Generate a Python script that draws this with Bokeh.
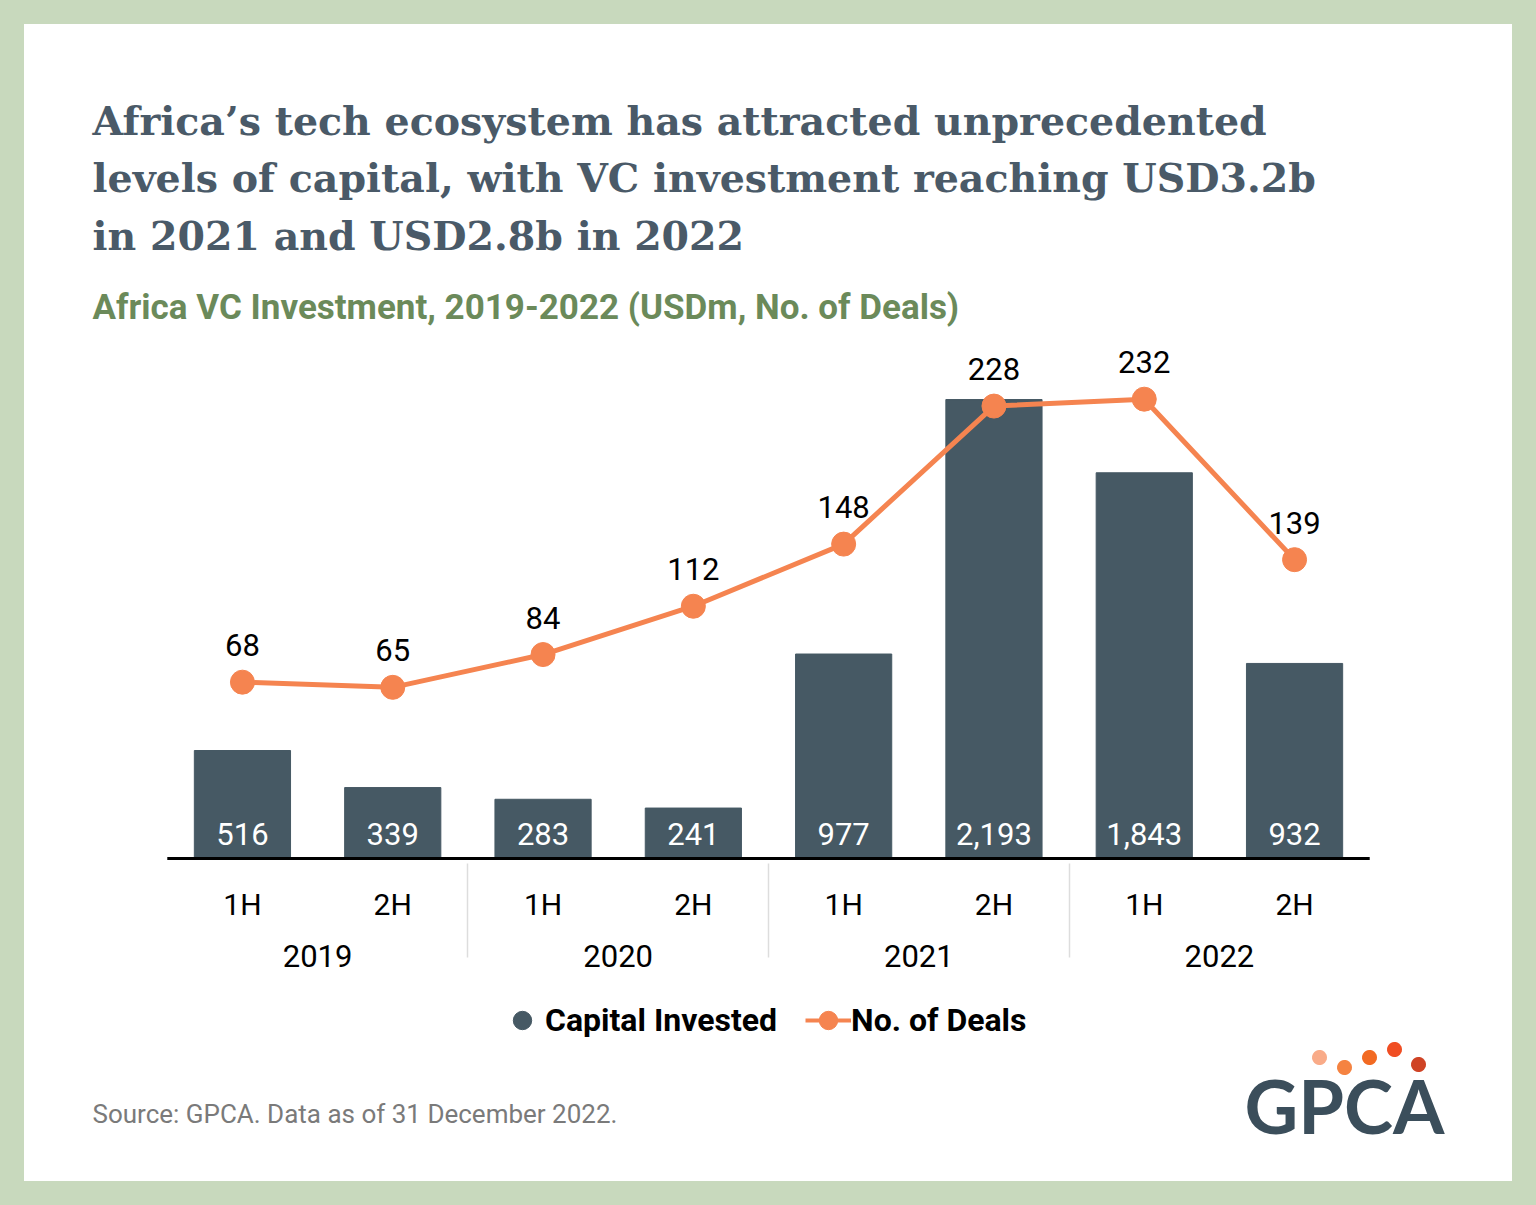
from bokeh.plotting import figure
from bokeh.models import (ColumnDataSource, FactorRange, Range1d, Label,
                          LabelSet, Legend, LegendItem, PolyAnnotation)
from bokeh.core.properties import value
from bokeh.transform import dodge
from bokeh.layouts import column
from bokeh.embed import file_html
from bokeh.resources import INLINE
import numpy as np

years = ["2019", "2019", "2020", "2020", "2021", "2021", "2022", "2022"]
halves = ["1H", "2H", "1H", "2H", "1H", "2H", "1H", "2H"]
capital = [516, 339, 283, 241, 977, 2193, 1843, 932]
deals = [68, 65, 84, 112, 148, 228, 232, 139]

BAR = "#465964"
ORANGE = "#f58450"
COND = "Roboto"
W = 1488


def blank(h):
    f = figure(width=W, height=h, output_backend="svg", toolbar_location=None,
               x_axis_type=None, y_axis_type=None,
               x_range=Range1d(0, 1), y_range=Range1d(0, 1),
               min_border=0, min_border_left=0, min_border_right=0,
               min_border_top=0, min_border_bottom=0)
    f.grid.visible = False
    f.outline_line_color = None
    f.background_fill_color = "white"
    f.border_fill_color = "white"
    return f


# ---------------- header (page y 24..335) ----------------
HB = 335
head = blank(HB - 24)
title_lines = ["Africa\u2019s tech ecosystem has attracted unprecedented",
               "levels of capital, with VC investment reaching USD3.2b",
               "in 2021 and USD2.8b in 2022"]
for i, t in enumerate(title_lines):
    head.add_layout(Label(x=92 - 24, y=HB - (138 + 57.5 * i) + 18, x_units="screen", y_units="screen",
                          text=t, text_font="DejaVu Serif", text_font_style="bold",
                          text_font_size="39.5px", text_color="#4a5a68", text_baseline="alphabetic"))
head.add_layout(Label(x=92 - 24, y=HB - 322 + 15, x_units="screen", y_units="screen",
                      text="Africa VC Investment, 2019-2022 (USDm, No. of Deals)",
                      text_font=COND, text_font_style="bold", text_font_size="35px",
                      text_color="#6b8a5a", text_baseline="alphabetic"))

# ---------------- chart (page y 335..1000) ----------------
factors = list(zip(years, halves))
src = ColumnDataSource(dict(
    x=factors, capital=capital, deals=deals,
    cap_lbl=[f"{v:,}" for v in capital],
    deal_lbl=[str(v) for v in deals],
    zero=[0] * len(capital),
))
base_src = ColumnDataSource(dict(first=[factors[0]], last=[factors[-1]], y=[0]))

p = figure(width=W, height=1000 - HB, output_backend="svg", toolbar_location=None,
           x_range=FactorRange(*factors, group_padding=0, factor_padding=0,
                               range_padding=0.95, range_padding_units="absolute"),
           y_range=Range1d(-9.56, 2498.9),
           min_border=0, min_border_left=0, min_border_right=0,
           min_border_top=0, min_border_bottom=140)
p.extra_y_ranges = {"deals": Range1d(-35.35, 268.9)}
p.background_fill_color = "white"
p.border_fill_color = "white"
p.outline_line_color = None
p.grid.visible = False
p.yaxis.visible = False

p.vbar(x="x", top="capital", width=0.64, source=src, color=BAR)
p.segment(x0=dodge("first", -0.5, range=p.x_range), x1=dodge("last", 0.5, range=p.x_range),
          y0="y", y1="y", source=base_src, line_color="black", line_width=3)
p.line(x="x", y="deals", source=src, color=ORANGE, line_width=5, y_range_name="deals")
p.scatter(x="x", y="deals", source=src, color=ORANGE, size=24, y_range_name="deals")

p.add_layout(LabelSet(x="x", y="zero", text="cap_lbl", source=src, y_offset=13,
                      text_align="center", text_baseline="alphabetic", text_color="white",
                      text_font=value(COND), text_font_size="31px"))
p.add_layout(LabelSet(x="x", y="deals", text="deal_lbl", source=src, y_offset=26,
                      text_align="center", text_baseline="alphabetic", text_color="black",
                      text_font=value(COND), text_font_size="31px", y_range_name="deals"))

ax = p.xaxis[0]
ax.axis_line_color = None
ax.major_tick_line_color = None
ax.minor_tick_line_color = None
ax.major_label_text_font = COND
ax.major_label_text_font_size = "30px"
ax.major_label_text_color = "black"
ax.group_text_font = COND
ax.group_text_font_size = "31px"
ax.group_text_color = "black"
ax.group_text_font_style = "normal"
ax.separator_line_color = "#dddddd"
ax.separator_line_width = 1.5
ax.major_label_standoff = 20

# ---------------- footer (page y 1000..1181) ----------------
FT = 1000
FB = 1181
foot = blank(FB - FT)
nan = [np.nan]
leg_cap = foot.scatter(x=nan, y=nan, color=BAR, size=24)
leg_ln = foot.line(x=nan, y=nan, color=ORANGE, line_width=4)
leg_pt = foot.scatter(x=nan, y=nan, color=ORANGE, size=24)
legend = Legend(items=[LegendItem(label="Capital Invested", renderers=[leg_cap]),
                       LegendItem(label="No. of Deals", renderers=[leg_ln, leg_pt])],
                orientation="horizontal", location=(499 - 24, FB - 1049),
                label_text_font=COND, label_text_font_size="32px", label_text_font_style="bold",
                label_text_color="black", border_line_color=None, background_fill_alpha=0,
                glyph_width=46, glyph_height=58, spacing=28, label_standoff=0,
                padding=0, margin=0)
foot.add_layout(legend, "center")

foot.add_layout(Label(x=92 - 24, y=FB - 1124 + 11, x_units="screen", y_units="screen",
                      text="Source: GPCA. Data as of 31 December 2022.",
                      text_font=COND, text_font_size="26px", text_color="#7a7a7a",
                      text_baseline="alphabetic"))
foot.add_layout(Label(x=1244 - 24, y=FB - 1131 + 26, x_units="screen", y_units="screen",
                      text="GPCA", text_font="Lato", text_font_style="bold",
                      text_font_size="74px", text_color="#3b4e5b", text_baseline="alphabetic"))
dots = [(1319, 1057, "#f9ab88"), (1344, 1067, "#f58341"), (1369, 1057, "#f26a22"),
        (1394, 1049, "#f04e23"), (1418, 1064, "#cf4325")]
th = np.linspace(0, 2 * np.pi, 28)
for cx, cy, c in dots:
    foot.add_layout(PolyAnnotation(xs=list(cx - 24 + 7.5 * np.cos(th)),
                                   ys=list(FB - cy + 7.5 * np.sin(th)),
                                   xs_units="screen", ys_units="screen",
                                   fill_color=c, fill_alpha=1, line_color=None))

inner = column(head, p, foot, spacing=0, styles={"background-color": "white"})
layout = column(inner, styles={"background-color": "#c8d9bd", "padding": "24px"})
open("out.html", "w").write(file_html(layout, INLINE))
